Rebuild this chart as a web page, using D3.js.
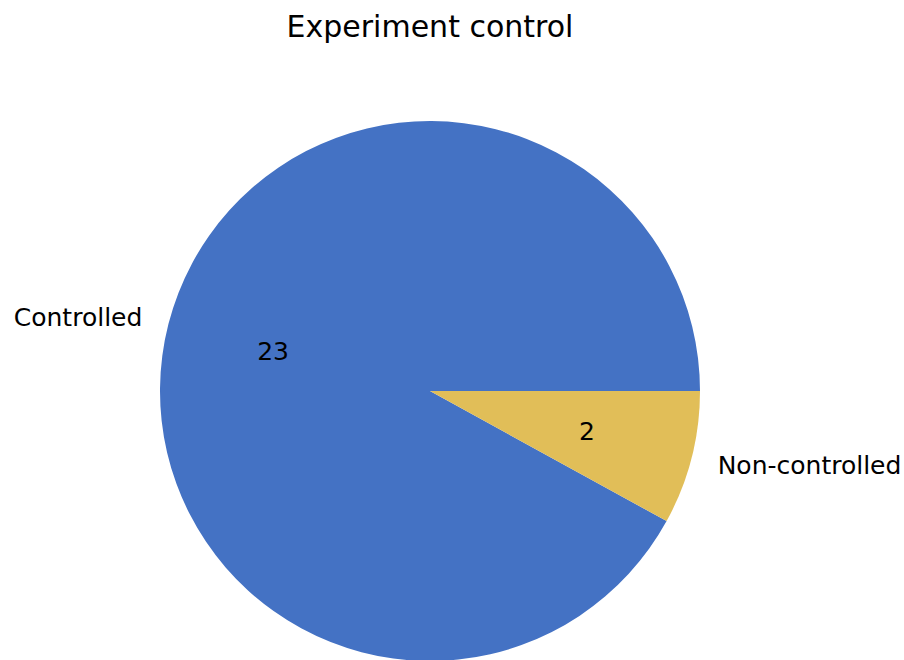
<!DOCTYPE html>
<html>
<head>
<meta charset="utf-8">
<script src="https://cdn.jsdelivr.net/npm/d3@7/dist/d3.min.js"></script>
<style>
  html, body { margin: 0; padding: 0; background: #fff; }
  svg { display: block; font-family: "DejaVu Sans", sans-serif; }
</style>
</head>
<body>
<svg id="chart" width="904" height="660"></svg>
<script>
// Experiment control breakdown
const categories = ["Controlled", "Non-controlled"];
const counts = [23, 2];
const sliceColors = ["#4472C4", "#E1BE58"];
const titleText = "Experiment control";

const width = 904, height = 660;
const cx = 430, cy = 391, radius = 270;

const svg = d3.select("#chart");

svg.append("text")
  .attr("x", cx)
  .attr("y", 37)
  .attr("text-anchor", "middle")
  .attr("font-size", 30)
  .attr("fill", "#000")
  .text(titleText);

const data = categories.map((c, i) => ({ name: c, value: counts[i], color: sliceColors[i] }));

// Start at 3 o'clock and run counter-clockwise
const pie = d3.pie()
  .sort(null)
  .value(d => d.value)
  .startAngle(Math.PI / 2)
  .endAngle(Math.PI / 2 - 2 * Math.PI);

const arcs = pie(data);

const arc = d3.arc().innerRadius(0).outerRadius(radius);
const labelArc = d3.arc().innerRadius(radius * 1.1).outerRadius(radius * 1.1);
const valueArc = d3.arc().innerRadius(radius * 0.6).outerRadius(radius * 0.6);

const g = svg.append("g").attr("transform", `translate(${cx},${cy})`);

g.selectAll("path.slice")
  .data(arcs)
  .join("path")
  .attr("class", "slice")
  .attr("d", arc)
  .attr("fill", d => d.data.color);

g.selectAll("text.cat")
  .data(arcs)
  .join("text")
  .attr("class", "cat")
  .attr("x", d => labelArc.centroid(d)[0])
  .attr("y", d => labelArc.centroid(d)[1])
  .attr("dy", "0.36em")
  .attr("text-anchor", d => labelArc.centroid(d)[0] > 0 ? "start" : "end")
  .attr("font-size", 25)
  .attr("fill", "#000")
  .text(d => d.data.name);

g.selectAll("text.val")
  .data(arcs)
  .join("text")
  .attr("class", "val")
  .attr("x", d => valueArc.centroid(d)[0])
  .attr("y", d => valueArc.centroid(d)[1])
  .attr("dy", "0.36em")
  .attr("text-anchor", "middle")
  .attr("font-size", 25)
  .attr("fill", "#000")
  .text(d => d.data.value);
</script>
</body>
</html>
